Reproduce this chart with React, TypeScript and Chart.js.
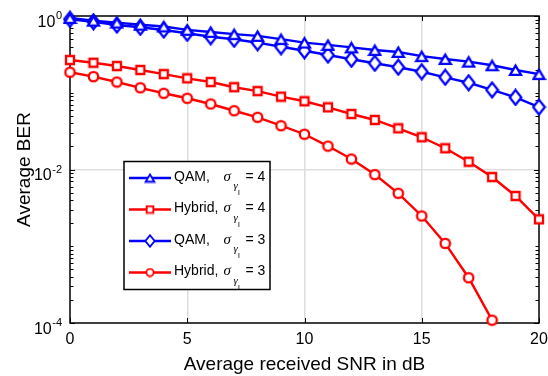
import React, { useEffect, useRef } from 'react';
import { Chart, registerables } from 'chart.js';

Chart.register(...registerables);

// ---------- data ----------
const snrDb = [0, 1, 2, 3, 4, 5, 6, 7, 8, 9, 10, 11, 12, 13, 14, 15, 16, 17, 18, 19, 20];
const qamSigma4 = [0.94, 0.87, 0.82, 0.77, 0.73, 0.66, 0.62, 0.58, 0.55, 0.50, 0.45, 0.42, 0.39, 0.36, 0.34, 0.30, 0.275, 0.254, 0.228, 0.198, 0.175];
const hybridSigma4 = [0.267, 0.246, 0.223, 0.198, 0.175, 0.154, 0.138, 0.118, 0.105, 0.089, 0.0774, 0.0646, 0.0529, 0.0442, 0.0344, 0.0263, 0.0189, 0.01264, 0.00798, 0.00452, 0.00224];
const qamSigma3 = [0.906, 0.843, 0.763, 0.713, 0.657, 0.595, 0.537, 0.497, 0.449, 0.398, 0.353, 0.310, 0.273, 0.242, 0.215, 0.188, 0.159, 0.135, 0.109, 0.087, 0.065];
const hybridSigma3 = [0.185, 0.162, 0.138, 0.116, 0.0984, 0.0847, 0.0714, 0.0583, 0.0479, 0.0372, 0.0288, 0.0202, 0.0137, 0.00859, 0.0049, 0.00248, 0.00109, 0.000389, 0.000109, null, null];

const xTickValues = [0, 5, 10, 15, 20];
const yTickValues = [1e-4, 1e-2, 1];
const yTickExponents = ['-4', '-2', '0'];
const xAxisTitle = 'Average received SNR in dB';
const yAxisTitle = 'Average BER';
const seriesNames = ['QAM,', 'Hybrid,', 'QAM,', 'Hybrid,'];
const sigmaValues = ['4', '4', '3', '3'];

// ---------- styles ----------
const BLUE = '#0000ff';
const RED = '#ff0000';
const SANS = '"Liberation Sans", Arial, Helvetica, sans-serif';
const SERIF = '"Liberation Serif", "DejaVu Serif", serif';

type MarkerKind = 'triangle' | 'square' | 'diamond' | 'circle';
const markerDims: Record<MarkerKind, [number, number]> = {
  triangle: [15, 14],
  square: [12, 12],
  diamond: [15, 18],
  circle: [13, 13],
};

function makeMarker(kind: MarkerKind, color: string, s = 1): HTMLCanvasElement {
  const [bw, bh] = markerDims[kind];
  const w = Math.round(bw * s);
  const h = Math.round(bh * s);
  const c = document.createElement('canvas');
  c.width = w;
  c.height = h;
  const g = c.getContext('2d')!;
  g.scale(w / bw, h / bh);
  g.beginPath();
  if (kind === 'triangle') {
    g.moveTo(7.5, 2.6);
    g.lineTo(13, 11.8);
    g.lineTo(2, 11.8);
    g.closePath();
  } else if (kind === 'square') {
    g.rect(2, 2, 8, 8);
  } else if (kind === 'diamond') {
    g.moveTo(7.5, 1.6);
    g.lineTo(13.3, 9);
    g.lineTo(7.5, 16.4);
    g.lineTo(1.7, 9);
    g.closePath();
  } else {
    g.arc(6.5, 6.5, 4.7, 0, Math.PI * 2);
  }
  g.fillStyle = '#ffffff';
  g.fill();
  g.lineWidth = 2.3;
  g.strokeStyle = color;
  g.lineJoin = 'miter';
  g.stroke();
  return c;
}

const seriesStyles: { kind: MarkerKind; color: string }[] = [
  { kind: 'triangle', color: BLUE },
  { kind: 'square', color: RED },
  { kind: 'diamond', color: BLUE },
  { kind: 'circle', color: RED },
];

const frameTicksPlugin = {
  id: 'frameTicks',
  beforeDatasetsDraw(chart: any) {
    const { ctx, chartArea } = chart;
    const { left, right, top, bottom } = chartArea;
    const xs = chart.scales.x;
    const ys = chart.scales.y;
    ctx.save();
    ctx.strokeStyle = '#000';
    ctx.lineWidth = 1;
    ctx.beginPath();
    xTickValues.forEach((v) => {
      const px = Math.round(xs.getPixelForValue(v)) + 0.5;
      ctx.moveTo(px, bottom);
      ctx.lineTo(px, bottom - 5);
      ctx.moveTo(px, top);
      ctx.lineTo(px, top + 5);
    });
    for (let e = -4; e <= 0; e++) {
      for (let k = 1; k <= 9; k++) {
        const v = k * Math.pow(10, e);
        if (v > 1.0000001) break;
        const py = Math.round(ys.getPixelForValue(v)) + 0.5;
        const major = k === 1 && e % 2 === 0;
        const len = major ? 5 : 3.5;
        ctx.moveTo(left, py);
        ctx.lineTo(left + len, py);
        ctx.moveTo(right, py);
        ctx.lineTo(right - len, py);
      }
    }
    ctx.stroke();
    ctx.lineWidth = 1.5;
    ctx.strokeRect(left, top, right - left, bottom - top);
    ctx.restore();
  },
  afterDraw(chart: any) {
    const { ctx, chartArea } = chart;
    const ys = chart.scales.y;
    ctx.save();
    ctx.fillStyle = '#000';
    // y tick labels 10^k
    yTickValues.forEach((v, i) => {
      const py = ys.getPixelForValue(v);
      const exp = yTickExponents[i];
      ctx.font = `11px ${SANS}`;
      const ew = ctx.measureText(exp).width;
      const rightEdge = chartArea.left - 8;
      ctx.textAlign = 'left';
      ctx.textBaseline = 'alphabetic';
      ctx.fillText(exp, rightEdge - ew, py + 3);
      ctx.font = `16px ${SANS}`;
      ctx.textAlign = 'right';
      ctx.fillText('10', rightEdge - ew - 0.5, py + 10.5);
    });

    // legend
    const lx = chartArea.left + 54;
    const ly = chartArea.top + 145.5;
    const lw = 146;
    const lh = 128;
    ctx.fillStyle = '#ffffff';
    ctx.fillRect(lx, ly, lw, lh);
    ctx.strokeStyle = '#000';
    ctx.lineWidth = 1.5;
    ctx.strokeRect(lx, ly, lw, lh);
    seriesNames.forEach((name, i) => {
      const st = seriesStyles[i];
      const rowY = ly + 16.5 + i * 31.5;
      ctx.strokeStyle = st.color;
      ctx.lineWidth = 2.4;
      ctx.beginPath();
      ctx.moveTo(lx + 5, rowY);
      ctx.lineTo(lx + 47, rowY);
      ctx.stroke();
      const m = makeMarker(st.kind, st.color, 0.8);
      ctx.drawImage(m, lx + 26 - m.width / 2, rowY - m.height / 2);
      ctx.fillStyle = '#000';
      ctx.textAlign = 'left';
      ctx.textBaseline = 'alphabetic';
      ctx.font = `14px ${SANS}`;
      ctx.fillText(name, lx + 50, rowY + 2.5);
      ctx.font = `italic 15px ${SERIF}`;
      ctx.fillText('σ', lx + 99.5, rowY + 2.5);
      ctx.font = `italic 11px ${SERIF}`;
      ctx.fillText('γ', lx + 109.5, rowY + 11);
      ctx.font = `8px ${SANS}`;
      ctx.fillText('l', lx + 114, rowY + 17);
      ctx.font = `14px ${SANS}`;
      ctx.fillText('= ' + sigmaValues[i], lx + 121.5, rowY + 2.5);
    });
    ctx.restore();
  },
};

export default function App() {
  const canvasRef = useRef<HTMLCanvasElement | null>(null);

  useEffect(() => {
    const canvas = canvasRef.current;
    if (!canvas) return;
    const allSeries = [qamSigma4, hybridSigma4, qamSigma3, hybridSigma3];
    const datasets = allSeries.map((arr, i) => ({
      label: seriesNames[i] + ' σ = ' + sigmaValues[i],
      data: snrDb.map((x, j) => ({ x, y: arr[j] })),
      borderColor: seriesStyles[i].color,
      backgroundColor: '#ffffff',
      borderWidth: 2.4,
      pointStyle: makeMarker(seriesStyles[i].kind, seriesStyles[i].color) as any,
      pointRadius: 6,
      clip: false as any,
      spanGaps: false,
      tension: 0,
    }));

    const gridColor = (c: any) => {
      const s = c.scale;
      if (!c.tick) return 'rgba(0,0,0,0)';
      const v = c.tick.value;
      if (Math.abs(v - s.min) < 1e-12 || Math.abs(v - s.max) < 1e-12) return 'rgba(0,0,0,0)';
      return '#dedede';
    };

    const chart = new Chart(canvas, {
      type: 'line',
      data: { datasets: datasets as any },
      options: {
        responsive: false,
        animation: false,
        devicePixelRatio: 1,
        layout: { padding: { left: 0, top: 16, right: 9, bottom: 0 } },
        plugins: { legend: { display: false }, tooltip: { enabled: false } },
        scales: {
          x: {
            type: 'linear',
            min: 0,
            max: 20,
            afterBuildTicks: (scale: any) => {
              scale.ticks = xTickValues.map((v) => ({ value: v }));
            },
            afterFit: (scale: any) => {
              scale.height = 53;
              scale.paddingLeft = 0;
              scale.paddingRight = 0;
            },
            ticks: {
              color: '#000',
              font: { family: SANS, size: 16 },
              padding: 7,
              maxRotation: 0,
              autoSkip: false,
            },
            grid: { color: gridColor, lineWidth: 1.5, drawTicks: false },
            border: { display: false },
            title: {
              display: true,
              text: xAxisTitle,
              color: '#000',
              font: { family: SANS, size: 19 },
              padding: { top: 0, bottom: 0 },
            },
          },
          y: {
            type: 'logarithmic',
            min: 1e-4,
            max: 1,
            afterBuildTicks: (scale: any) => {
              scale.ticks = yTickValues.map((v) => ({ value: v }));
            },
            afterFit: (scale: any) => {
              scale.width = 70;
              scale.paddingTop = 0;
              scale.paddingBottom = 0;
            },
            ticks: { display: false },
            grid: { color: gridColor, lineWidth: 1.5, drawTicks: false },
            border: { display: false },
            title: {
              display: true,
              text: yAxisTitle,
              color: '#000',
              font: { family: SANS, size: 19 },
              padding: { top: 13, bottom: 0 },
            },
          },
        },
      },
      plugins: [frameTicksPlugin],
    });
    return () => chart.destroy();
  }, []);

  return (
    <div style={{ position: 'absolute', left: 0, top: 0, width: 548, height: 376, background: '#fff' }}>
      <canvas ref={canvasRef} width={548} height={376} style={{ display: 'block', width: 548, height: 376 }} />
    </div>
  );
}
